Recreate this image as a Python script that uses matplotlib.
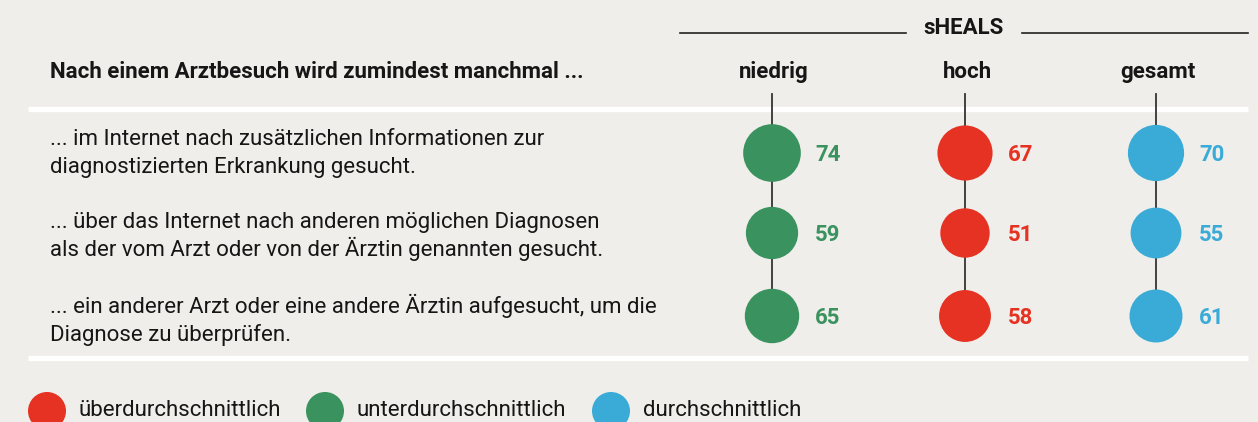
import matplotlib.pyplot as plt
from matplotlib.patches import Ellipse

plt.rcParams['font.family'] = ['Roboto', 'DejaVu Sans']

# data
groups = ['niedrig', 'hoch', 'gesamt']
items = [['... im Internet nach zusätzlichen Informationen zur',
          'diagnostizierten Erkrankung gesucht.'],
         ['... über das Internet nach anderen möglichen Diagnosen',
          'als der vom Arzt oder von der Ärztin genannten gesucht.'],
         ['... ein anderer Arzt oder eine andere Ärztin aufgesucht, um die',
          'Diagnose zu überprüfen.']]
niedrig = [74, 59, 65]
hoch = [67, 51, 58]
gesamt = [70, 55, 61]
legend_labels = ['überdurchschnittlich', 'unterdurchschnittlich', 'durchschnittlich']

GREEN = '#3a925e'
RED = '#e63222'
BLUE = '#3aabd7'
BG = '#efeeea'
INK = '#161616'

W, H = 1258, 422
fig = plt.figure(figsize=(W / 100, H / 100), dpi=100, facecolor=BG)
ax = fig.add_axes([0, 0, 1, 1])
ax.set_xlim(0, W)
ax.set_ylim(H, 0)
ax.axis('off')
ax.set_facecolor(BG)

col_x = [772, 965, 1156]
row_y = [153, 233, 316]
text_base = [145, 228, 313]
cols = [GREEN, RED, BLUE]
values = [niedrig, hoch, gesamt]

# header
ax.plot([680, 906], [33, 33], color='#222222', lw=1.2)
ax.plot([1022, 1248], [33, 33], color='#222222', lw=1.2)
ax.text(964, 34, 'sHEALS', ha='center', va='baseline', fontsize=16, fontweight='bold', color=INK)
ax.text(50, 78, 'Nach einem Arztbesuch wird zumindest manchmal ...', ha='left', va='baseline',
        fontsize=16, fontweight='bold', color=INK)
for x, g in zip(col_x, groups):
    ax.text(x + 2, 78, g, ha='center', va='baseline', fontsize=16, fontweight='bold', color=INK)

# white separators
ax.plot([28, 1248], [108.5, 108.5], color='white', lw=3.8, solid_capstyle='butt', zorder=1)
ax.plot([28, 1248], [357.5, 357.5], color='white', lw=3.8, solid_capstyle='butt', zorder=1)

# row labels
for yb, lines in zip(text_base, items):
    for i, t in enumerate(lines):
        ax.text(50, yb + 28 * i, t, ha='left', va='baseline', fontsize=16, color=INK)

# dots
for x, vals, c in zip(col_x, values, cols):
    ax.plot([x, x], [94, row_y[-1]], color='#333333', lw=1.3, zorder=2)
    for y, v in zip(row_y, vals):
        d = 31 + 0.36 * v
        ax.add_patch(Ellipse((x, y), d, d, color=c, zorder=3, lw=0))
        ax.text(x + 43, y + 8, str(v), ha='left', va='baseline', fontsize=16, fontweight='bold', color=c)

# legend
leg_x = [47, 325, 611]
leg_c = [RED, GREEN, BLUE]
for x, c, lab in zip(leg_x, leg_c, legend_labels):
    ax.add_patch(Ellipse((x, 411), 38, 38, color=c, lw=0))
    ax.text(x + 32, 416, lab, ha='left', va='baseline', fontsize=16, color=INK)

fig.savefig('out.png', dpi=100, facecolor=BG)
